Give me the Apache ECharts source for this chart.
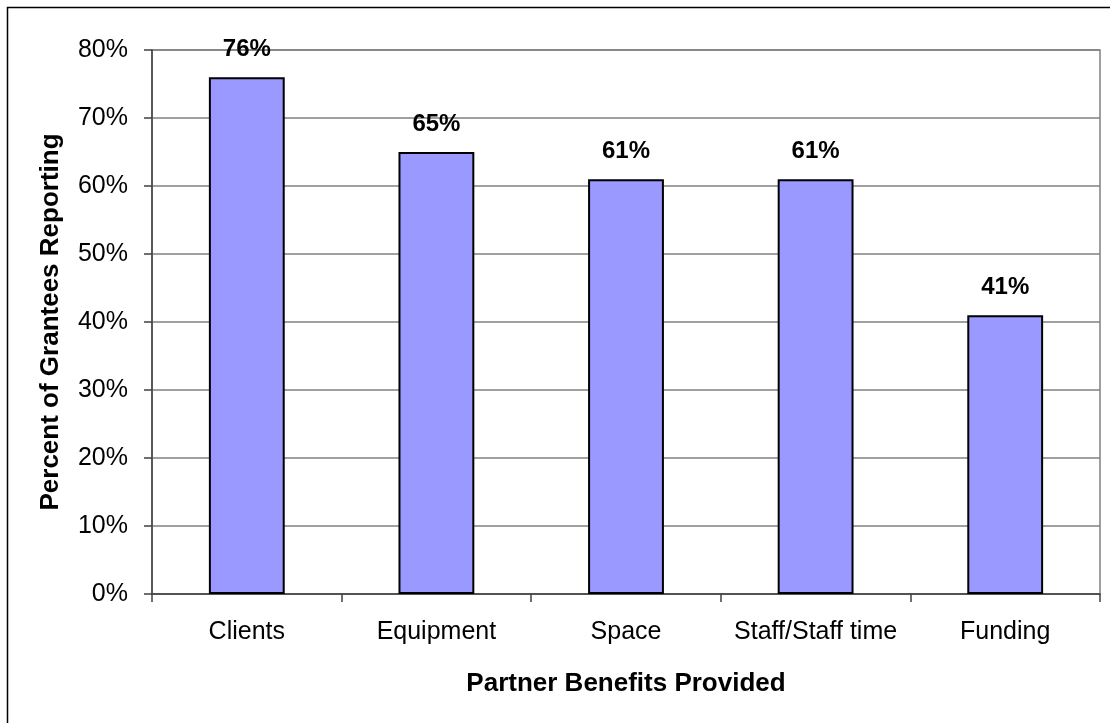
<!DOCTYPE html>
<html>
<head>
<meta charset="utf-8">
<script src="https://cdn.jsdelivr.net/npm/echarts@6/dist/echarts.min.js"></script>
<style>
html,body{margin:0;padding:0;background:#fff;}
#chart{width:1110px;height:723px;}
</style>
</head>
<body>
<div id="chart"></div>
<script>
const categories = ['Clients', 'Equipment', 'Space', 'Staff/Staff time', 'Funding'];
const values = [76, 65, 61, 61, 41];
const yTicks = [0, 10, 20, 30, 40, 50, 60, 70, 80];
const xTitle = 'Partner Benefits Provided';
const yTitle = 'Percent of Grantees Reporting';

const FONT = '"Liberation Sans", Arial, sans-serif';
const chart = echarts.init(document.getElementById('chart'), null, {renderer: 'canvas'});
chart.setOption({
  animation: false,
  backgroundColor: '#ffffff',
  textStyle: {fontFamily: FONT, color: '#000'},
  graphic: [{
    type: 'rect',
    shape: {x: 7.5, y: 7.5, width: 1200, height: 800},
    style: {fill: 'none', stroke: '#000', lineWidth: 1.5},
    silent: true
  }],
  grid: {
    left: 152, right: 10, top: 50, bottom: 129,
    show: true, borderColor: '#808080', borderWidth: 1.5, backgroundColor: 'transparent'
  },
  xAxis: {
    type: 'category',
    data: categories,
    name: xTitle,
    nameLocation: 'middle',
    nameGap: 77,
    nameTextStyle: {fontFamily: FONT, fontSize: 26, fontWeight: 'bold', color: '#000'},
    axisLine: {lineStyle: {color: '#404040', width: 1.5}},
    axisTick: {show: true, length: 8, interval: 0, alignWithLabel: false, lineStyle: {color: '#404040', width: 1.5}},
    axisLabel: {fontFamily: FONT, fontSize: 25, color: '#000', margin: 26, interval: 0},
    splitLine: {show: false}
  },
  yAxis: {
    type: 'value',
    min: 0, max: 80, interval: 10,
    name: yTitle,
    nameLocation: 'middle',
    nameGap: 88,
    nameRotate: 90,
    nameTextStyle: {fontFamily: FONT, fontSize: 26, fontWeight: 'bold', color: '#000'},
    axisLine: {show: true, lineStyle: {color: '#404040', width: 1.5}},
    axisTick: {show: true, length: 8, lineStyle: {color: '#404040', width: 1.5}},
    axisLabel: {fontFamily: FONT, fontSize: 25, color: '#000', margin: 24,
      formatter: v => yTicks.includes(v) ? v + '%' : ''},
    splitLine: {show: true, lineStyle: {color: '#808080', width: 1.5}}
  },
  series: [{
    type: 'bar',
    data: values,
    barWidth: '40%',
    itemStyle: {color: '#9999FF', borderColor: '#000', borderWidth: 2},
    label: {
      show: true, position: 'top', distance: 16,
      formatter: p => p.value + '%',
      fontFamily: FONT, fontSize: 24, fontWeight: 'bold', color: '#000'
    }
  }]
});
</script>
</body>
</html>
